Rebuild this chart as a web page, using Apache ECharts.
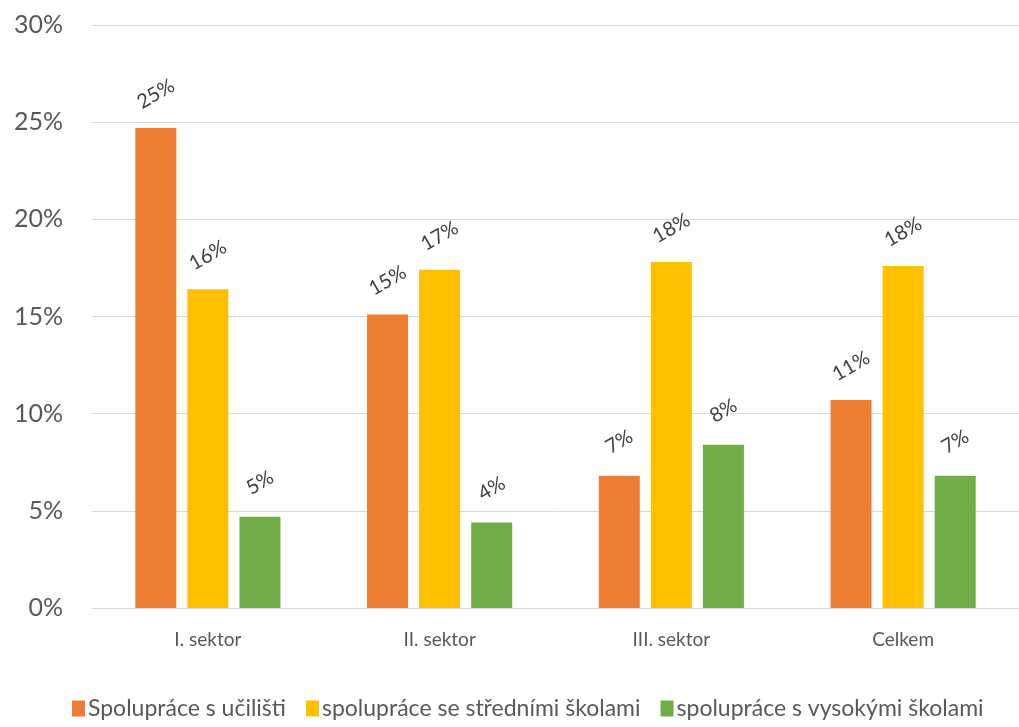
<!DOCTYPE html>
<html>
<head>
<meta charset="utf-8">
<script src="https://cdn.jsdelivr.net/npm/echarts@6/dist/echarts.min.js"></script>
<style>
  html, body { margin: 0; padding: 0; background: #fff; }
  #main { width: 1019px; height: 727px; }
</style>
</head>
<body>
<div id="main"></div>
<script>
// kategorie a hodnoty (v %)
var categories = ['I. sektor', 'II. sektor', 'III. sektor', 'Celkem'];
var seriesNames = ['Spolupráce s učilišti', 'spolupráce se středními školami', 'spolupráce s vysokými školami'];
var ucilisteData = [24.7, 15.1, 6.8, 10.7];
var stredniData = [16.4, 17.4, 17.8, 17.6];
var vysokeData = [4.7, 4.4, 8.4, 6.8];
var yTicks = [0, 5, 10, 15, 20, 25, 30];

var colors = ['#ED7D31', '#FFC000', '#70AD47'];
var font = 'Lato, "Open Sans", sans-serif';

var myChart = echarts.init(document.getElementById('main'));

function makeSeries(name, data, color) {
    return {
        name: name,
        type: 'bar',
        data: data,
        barWidth: 41,
        barGap: '27%',
        itemStyle: { color: color },
        label: {
            show: true,
            position: 'top',
            distance: 34,
            rotate: 30,
            align: 'center',
            verticalAlign: 'middle',
            color: '#404040',
            fontFamily: font,
            fontSize: 20,
            formatter: function (p) {
                return Math.round(p.value) + '%';
            }
        }
    };
}

var option = {
    animation: false,
    backgroundColor: '#fff',
    grid: {
        left: 92,
        top: 25,
        width: 932,
        height: 583
    },
    xAxis: {
        type: 'category',
        data: categories,
        axisLine: { lineStyle: { color: '#D9D9D9', width: 1 } },
        axisTick: { show: false },
        axisLabel: {
            color: '#595959',
            fontFamily: font,
            fontSize: 19,
            margin: 22
        }
    },
    yAxis: {
        type: 'value',
        min: yTicks[0],
        max: yTicks[yTicks.length - 1],
        interval: 5,
        axisLine: { show: false },
        axisTick: { show: false },
        splitLine: { lineStyle: { color: '#D9D9D9', width: 1 } },
        axisLabel: {
            color: '#595959',
            fontFamily: font,
            fontSize: 25,
            margin: 29,
            formatter: '{value}%'
        }
    },
    legend: {
        top: 697,
        left: 72,
        padding: 0,
        itemWidth: 13,
        itemHeight: 16,
        itemGap: 20,
        icon: 'rect',
        textStyle: {
            color: '#595959',
            fontFamily: font,
            fontSize: 23,
            padding: [0, 0, 0, -2]
        },
        data: seriesNames
    },
    series: [
        makeSeries(seriesNames[0], ucilisteData, colors[0]),
        makeSeries(seriesNames[1], stredniData, colors[1]),
        makeSeries(seriesNames[2], vysokeData, colors[2])
    ]
};

myChart.setOption(option);
</script>
</body>
</html>
